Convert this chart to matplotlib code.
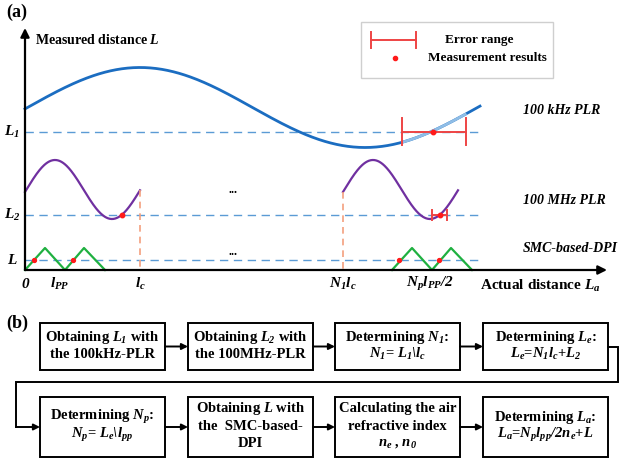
import numpy as np
import matplotlib.pyplot as plt
from matplotlib.patches import Rectangle

plt.rcParams['font.family'] = 'Liberation Serif'
plt.rcParams['font.weight'] = 'bold'
plt.rcParams['mathtext.fontset'] = 'custom'
plt.rcParams['mathtext.rm'] = 'Liberation Serif:bold:italic'
plt.rcParams['mathtext.it'] = 'Liberation Serif:bold:italic'
plt.rcParams['mathtext.bf'] = 'Liberation Serif:bold'

# ---- panel (a): layout of the distance axes (pixel units, y down) ----
X0, Y0 = 25, 270
X_END, Y_TOP = 607, 28

# 100 kHz PLR curve
khz_mid, khz_amp, khz_peak, khz_period = 107.5, 40, 140, 450
khz_span = [25, 480]
L1_level = 132
L1_err = [402, 466]
L1_meas = 433

# 100 MHz PLR curve, one period drawn at each start
mhz_mid, mhz_amp, mhz_peak, mhz_period = 189.5, 29.5, 55, 114
mhz_starts = [25, 343]
lc_width = 115
L2_level = 215
L2_meas = [122, 440]
L2_err = [432, 447]

# SMC-based DPI triangle wave
dpi_starts = [25, 392]
dpi_tri_x = [0, 20, 40, 59, 80]
dpi_tri_h = [0, 22, 0, 22, 0]
L_level = 260
L_meas = [34, 73, 399, 439]

level_y = [L1_level, L2_level, L_level]
level_labels = [r'$L_1$', r'$L_2$', r'$L$']

tick_pos = [25, 60, 140, 343, 430]
tick_labels = ['0', r'$l_{PP}$', r'$l_c$', r'$N_1l_c$', r'$N_pl_{PP}/2$']

curve_names = ['100 kHz PLR', '100 MHz PLR', 'SMC-based-DPI']
curve_name_y = [110, 201, 249]

# ---- panel (b): flow chart ----
box_x = [40, 188, 335, 483]
row_y = [(323, 370), (397, 457)]
box_w = 125
box_texts = [
    [r'Obtaining $L_1$ with', 'the 100kHz-PLR'],
    [r'Obtaining $L_2$ with', 'the 100MHz-PLR'],
    [r'Determining $N_1$:', r'$N_1$= $L_1\backslash l_c$'],
    [r'Determining $L_e$:', r'$L_e$=$N_1l_c$+$L_2$'],
    [r'Determining $N_p$:', r'$N_p$= $L_e\backslash l_{pp}$'],
    [r'Obtaining $L$ with', 'the  SMC-based-', 'DPI'],
    ['Calculating the air', 'refractive index', r'$n_e$ , $n_0$'],
    [r'Determining $L_a$:', r'$L_a$=$N_pl_{pp}/2n_e$+$L$'],
]

BLUE = '#1b6dc1'
LIGHT_BLUE = '#8fbde6'
DASH_BLUE = '#5b9bd5'
PURPLE = '#7030a0'
GREEN = '#1fb040'
RED = '#ff1a1a'
ERR_RED = '#ee4444'
SALMON = '#f4a07e'

fig = plt.figure(figsize=(6.19, 4.62), dpi=100)
ax = fig.add_axes([0, 0, 1, 1])
ax.set_xlim(0, 619)
ax.set_ylim(462, 0)
ax.axis('off')


def arrow(ax, start, end, lw=1.5, scale=12):
    ax.annotate('', xy=end, xytext=start,
                arrowprops=dict(arrowstyle='-|>', color='black', lw=lw,
                                mutation_scale=scale, shrinkA=0, shrinkB=0))


# axes
arrow(ax, (X0, Y0), (X0, Y_TOP), lw=1.6, scale=13)
arrow(ax, (X0, Y0), (X_END, Y0), lw=1.6, scale=13)
ax.text(6, 12, '(a)', fontsize=13, va='center', ha='left')
ax.text(35, 40, r'Measured distance $L$', fontsize=10, va='center', ha='left')
ax.text(540, 286, r'Actual distance $L_a$', fontsize=11, va='center', ha='center')

# dashed levels
for y, lab in zip(level_y, level_labels):
    ax.plot([X0, 480], [y, y], color=DASH_BLUE, lw=1.0, dashes=(6, 4))
    ax.text(12, y, lab, fontsize=11, va='center', ha='center')

# 100 kHz curve with the lighter part inside the error range
x = np.linspace(khz_span[0], khz_span[1], 400)
y = khz_mid - khz_amp * np.cos(2 * np.pi * (x - khz_peak) / khz_period)
ax.plot(x, y, color=BLUE, lw=2)
inside = (x >= L1_err[0]) & (x <= L1_err[1])
ax.plot(x[inside], y[inside], color=LIGHT_BLUE, lw=2)

# error bar on L1
ax.plot(L1_err, [L1_level, L1_level], color=ERR_RED, lw=1.4)
for ex in L1_err:
    ax.plot([ex, ex], [118, 145], color=ERR_RED, lw=1.4)
ax.plot(L1_meas, L1_level, 'o', color=RED, ms=3.2)

# 100 MHz curve: first and N1-th period
for s in mhz_starts:
    xs = np.linspace(s, s + lc_width, 200)
    ys = mhz_mid - mhz_amp * np.cos(2 * np.pi * (xs - s - (mhz_peak - mhz_starts[0])) / mhz_period)
    ax.plot(xs, ys, color=PURPLE, lw=1.6)
    xe = s + lc_width if s == mhz_starts[0] else s
    ye = mhz_mid - mhz_amp * np.cos(2 * np.pi * (xe - s - (mhz_peak - mhz_starts[0])) / mhz_period)
    ax.plot([xe, xe], [ye, Y0], color=SALMON, lw=1.2, dashes=(4, 3))

ax.plot(L2_err, [L2_level, L2_level], color=ERR_RED, lw=1.4)
for ex in L2_err:
    ax.plot([ex, ex], [210, 220], color=ERR_RED, lw=1.4)
ax.plot(L2_meas, [L2_level] * len(L2_meas), 'o', color=RED, ms=3.2)

# SMC-based DPI triangle waves
for s in dpi_starts:
    ax.plot([s + v for v in dpi_tri_x], [Y0 - h for h in dpi_tri_h],
            color=GREEN, lw=1.6)
ax.plot(L_meas, [L_level] * len(L_meas), 'o', color=RED, ms=2.8)

ax.text(233, 190, '...', fontsize=9, ha='center', va='center')
ax.text(233, 252, '...', fontsize=9, ha='center', va='center')

for px, lab in zip(tick_pos, tick_labels):
    ax.text(px, 284, lab, fontsize=11, ha='center', va='center',
            style='italic')

for y, name in zip(curve_name_y, curve_names):
    ax.text(523, y, name, fontsize=10, ha='left', va='center',
            style='italic')

# legend
ax.add_patch(Rectangle((361, 22), 192, 56, fill=False,
                       edgecolor='#cfcfcf', lw=1))
ax.plot([371, 416], [40, 40], color=ERR_RED, lw=1.4)
for ex in (371, 416):
    ax.plot([ex, ex], [32, 48], color=ERR_RED, lw=1.4)
ax.plot(395, 58, 'o', color=RED, ms=3)
ax.text(479, 40, 'Error range', fontsize=9.5, ha='center', va='center')
ax.text(487, 58, 'Measurement results', fontsize=9.5, ha='center', va='center')

# ---- panel (b) ----
ax.text(6, 323, '(b)', fontsize=13, va='center', ha='left')
for i, lines in enumerate(box_texts):
    row = i // 4
    bx = box_x[i % 4]
    top, bottom = row_y[row]
    ax.add_patch(Rectangle((bx, top), box_w, bottom - top, fill=False,
                           edgecolor='black', lw=1.4))
    cy = (top + bottom) / 2 - 1
    step = 17.5 if len(lines) == 3 else 17
    for k, line in enumerate(lines):
        ly = cy + (k - (len(lines) - 1) / 2) * step
        ax.text(bx + box_w / 2, ly, line, fontsize=10.5,
                ha='center', va='center')

for row in range(2):
    top, bottom = row_y[row]
    cy = (top + bottom) / 2
    for k in range(3):
        arrow(ax, (box_x[k] + box_w, cy), (box_x[k + 1], cy), lw=1.4, scale=9)

# connector from the last box of row one to the first box of row two
r1 = sum(row_y[0]) / 2
r2 = sum(row_y[1]) / 2
ax.plot([box_x[3] + box_w, 618, 618, 16, 16],
        [r1, r1, 382, 382, r2], color='black', lw=1.4,
        solid_joinstyle='miter')
arrow(ax, (16, r2), (box_x[0], r2), lw=1.4, scale=9)

fig.savefig('out.png', dpi=100)
